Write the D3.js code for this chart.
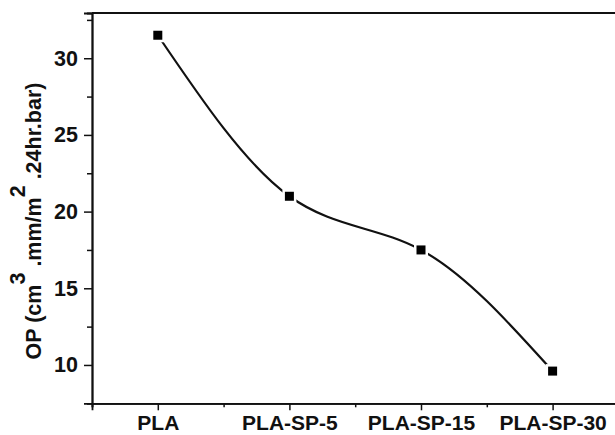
<!DOCTYPE html>
<html>
<head>
<meta charset="utf-8">
<script src="https://cdn.jsdelivr.net/npm/d3@7"></script>
<style>
  html, body { margin: 0; padding: 0; background: #fff; }
  svg { display: block; }
  text { font-family: "Liberation Sans", Arial, sans-serif; font-weight: bold; fill: #111; }
</style>
</head>
<body>
<svg id="chart" width="615" height="435"></svg>
<script>
// Oxygen permeability of PLA and its SP blends
const categories = ["PLA", "PLA-SP-5", "PLA-SP-15", "PLA-SP-30"];
const opValues = [31.5, 21.0, 17.5, 9.6];
const yMajorTicks = [10, 15, 20, 25, 30];
const yMinorTicks = [12.5, 17.5, 22.5, 27.5, 32.5];
const xMinorTicks = [0.5, 1.5, 2.5, 3.5];

const svg = d3.select("#chart");
const plotLeft = 92, plotRight = 618.4, plotTop = 13, plotBottom = 403.3;
const fontSize = 21.5;
const xFontSize = 21;

const x = d3.scaleLinear().domain([0.5, 4.5]).range([plotLeft, plotRight]);
const y = d3.scaleLinear().domain([7.5, 32.95]).range([plotBottom, plotTop]);

const points = opValues.map((v, i) => ({ xi: i + 1, v }));

// frame top
svg.append("line")
  .attr("x1", plotLeft).attr("x2", plotRight)
  .attr("y1", plotTop).attr("y2", plotTop)
  .attr("stroke", "#111").attr("stroke-width", 1.8);

// y axis: minor then major ticks
const yMinor = svg.append("g").attr("transform", `translate(${plotLeft},0)`)
  .call(d3.axisLeft(y).tickValues(yMinorTicks).tickSize(5).tickFormat(""));
const yMajor = svg.append("g").attr("transform", `translate(${plotLeft},0)`)
  .call(d3.axisLeft(y).tickValues(yMajorTicks).tickSize(8).tickPadding(6).tickFormat(d3.format("d")));

// x axis
const xMinor = svg.append("g").attr("transform", `translate(0,${plotBottom})`)
  .call(d3.axisBottom(x).tickValues(xMinorTicks).tickSize(4).tickFormat(""));
const xMajor = svg.append("g").attr("transform", `translate(0,${plotBottom})`)
  .call(d3.axisBottom(x).tickValues([1, 2, 3, 4]).tickSize(7).tickPadding(5)
    .tickFormat(d => categories[d - 1]));

[yMinor, yMajor, xMinor, xMajor].forEach(g => {
  g.select(".domain").attr("stroke", "#111").attr("stroke-width", 1.8);
  g.selectAll(".tick line").attr("stroke", "#111").attr("stroke-width", 1.5);
  g.selectAll("text").attr("font-size", fontSize).attr("fill", "#111")
    .attr("font-family", "'Liberation Sans', Arial, sans-serif").attr("font-weight", "bold");
});
xMajor.selectAll("text").attr("font-size", xFontSize);

// y-axis title
const yTitle = svg.append("text")
  .attr("transform", "translate(41,221) rotate(-90)")
  .attr("text-anchor", "middle")
  .attr("font-size", fontSize);
yTitle.append("tspan").text("OP (cm");
yTitle.append("tspan").attr("dy", -16).text("3");
yTitle.append("tspan").attr("dy", 16).text(" .mm/m");
yTitle.append("tspan").attr("dy", -16).text("2");
yTitle.append("tspan").attr("dy", 16).text(" .24hr.bar)");

// smooth connecting curve
const line = d3.line()
  .x(d => x(d.xi))
  .y(d => y(d.v))
  .curve(d3.curveNatural);

svg.append("path")
  .datum(points)
  .attr("d", line)
  .attr("fill", "none")
  .attr("stroke", "#111")
  .attr("stroke-width", 2.2);

// markers with a small white gap around them
const mk = svg.append("g");
mk.selectAll("rect.halo").data(points).join("rect")
  .attr("class", "halo")
  .attr("x", d => x(d.xi) - 7).attr("y", d => y(d.v) - 7)
  .attr("width", 14).attr("height", 14)
  .attr("fill", "#fff");
mk.selectAll("rect.pt").data(points).join("rect")
  .attr("class", "pt")
  .attr("x", d => x(d.xi) - 4.5).attr("y", d => y(d.v) - 4.5)
  .attr("width", 9).attr("height", 9)
  .attr("fill", "#000");
</script>
</body>
</html>
